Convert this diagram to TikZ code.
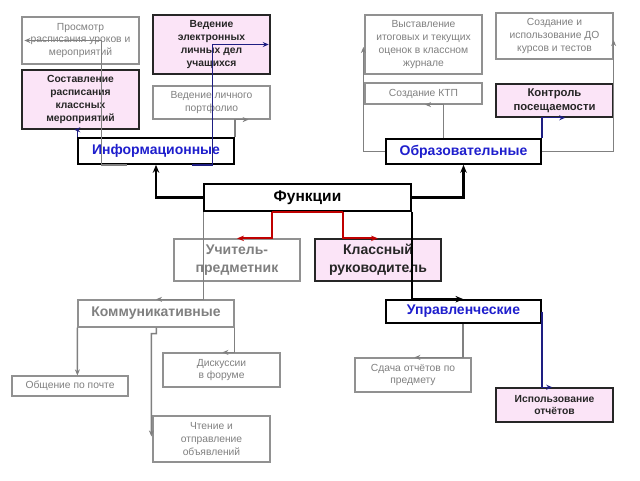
\documentclass[tikz,border=0pt]{standalone}
\usepackage{fontspec}
\setmainfont{Liberation Sans}
\usetikzlibrary{arrows.meta,calc}
\definecolor{gtext}{RGB}{128,128,128}
\definecolor{gline}{RGB}{128,128,128}
\definecolor{gborder}{RGB}{145,145,145}
\definecolor{pinkfill}{RGB}{251,228,247}
\definecolor{navyline}{RGB}{30,30,130}
\definecolor{bluetext}{RGB}{30,30,205}
\definecolor{redline}{RGB}{192,0,0}
\begin{document}
\begin{tikzpicture}[x=1pt,y=-1pt,
  sz/.style 2 args={minimum width=#1pt, minimum height=#2pt},
  gbox/.style={draw=gborder, fill=white, line width=1.2pt, inner sep=0pt, align=center, text=gtext,
    font=\fontsize{10.3}{12.7}\selectfont},
  pbox/.style={draw=black!85, fill=pinkfill, line width=1.5pt, inner sep=0pt, align=center, text=black!85,
    font=\bfseries\fontsize{10.3}{12.7}\selectfont},
  cat/.style={draw=black, fill=white, line width=1.6pt, inner sep=0pt, align=center, text=bluetext,
    font=\bfseries\fontsize{14}{16}\selectfont},
  gcat/.style={draw=gborder, fill=white, line width=1.3pt, inner sep=0pt, align=center, text=gtext,
    font=\bfseries\fontsize{14}{18}\selectfont},
  tip/.style={-{Stealth[length=6pt,width=5pt]}},
  gconn/.style={draw=gline, line width=1.4pt, tip},
  nconn/.style={draw=navyline, line width=1.4pt, tip},
  bconn/.style={draw=black, line width=2.2pt, -{Stealth[length=8pt,width=6.5pt]}},
  rconn/.style={draw=redline, line width=1.8pt, -{Stealth[length=7pt,width=5.5pt]}},
]
\fill[white] (0,0) rectangle (640,480);
\useasboundingbox (0,0) rectangle (640,480);

% top-left group
\node[gbox, sz={117}{47}] (prosm) at (80.5,40.5) {Просмотр\\расписания уроков и\\мероприятий};
\node[pbox, sz={117}{59}] (vedel) at (211.5,44.5) {Ведение\\электронных\\личных дел\\учащихся};
\node[pbox, sz={117}{59}] (sost) at (80.5,99.5) {Составление\\расписания\\классных\\мероприятий};
\node[gbox, sz={117}{33}] (portf) at (211.5,102.5) {Ведение личного\\портфолио};
\node[cat, sz={156}{26}] (info) at (156,151) {Информационные};

% top-right group
\node[gbox, sz={117}{59}] (vyst) at (423.5,44.5) {Выставление\\итоговых и текущих\\оценок в классном\\журнале};
\node[gbox, sz={117}{46}] (sozd) at (554.5,36) {Создание и\\использование ДО\\курсов и тестов};
\node[gbox, sz={117}{21}] (ktp) at (423.5,93.5) {\raisebox{1.5pt}{Создание КТП}};
\node[pbox, sz={117}{33}, font=\bfseries\fontsize{11.3}{13.5}\selectfont] (kontr) at (554.5,100.5) {Контроль\\посещаемости};
\node[cat, sz={155}{25}] (obr) at (463.5,151.5) {Образовательные};

% centre
\node[draw=black, fill=white, line width=1.6pt, inner sep=0pt, sz={207}{27},
  font=\bfseries\fontsize{15.5}{17}\selectfont] (func) at (307.5,197.5) {Функции};
\node[gcat, sz={126}{42}] (uchit) at (237,260) {Учитель-\\предметник};
\node[gcat, sz={126}{42}, draw=black!85, fill=pinkfill, text=black!85] (klass) at (378,260) {Классный\\руководитель};

% bottom groups
\node[gcat, sz={156}{27}] (komm) at (156,313.5) {Коммуникативные};
\node[cat, sz={155}{23}] (upr) at (463.5,311.5) {Управленческие};
\node[gbox, sz={116}{20}] (obsch) at (70,386) {Общение по почте};
\node[gbox, sz={117}{34}] (disk) at (221.5,370) {Дискуссии\\в форуме};
\node[gbox, sz={117}{46}] (chten) at (211.5,439) {Чтение и\\отправление\\объявлений};
\node[gbox, sz={116}{34}] (sdacha) at (413,375) {Сдача отчётов по\\предмету};
\node[pbox, sz={117}{34}] (ispolz) at (554.5,405) {Использование\\отчётов};

% connectors from Функции
\draw[bconn] (func.west) -| (info.south);
\draw[bconn] (func.east) -| (obr.south);
\draw[redline, line width=1.8pt] ([xshift=-35.5pt]func.south) -- ([xshift=35.5pt]func.south);
\draw[rconn] ([xshift=-35.5pt]func.south) |- (uchit.north);
\draw[rconn] ([xshift=35.5pt]func.south) |- (klass.north);
\draw[gconn] (func.south west) |- (komm.north);
\draw[bconn, line width=1.8pt] (func.south east) |- (upr.north);

% Информационные
\draw[gconn] ([xshift=50pt]info.south west) -- ([xshift=24pt]info.south west) |- ([xshift=3pt]prosm.west);
\draw[nconn] ([xshift=115pt]info.south west) -- ([xshift=135pt]info.south west) |- ([xshift=-2pt]vedel.east);
\draw[nconn] (info.north west) |- ([xshift=53pt]sost.south west);
\draw[gconn] (info.north east) |- ([xshift=-22pt]portf.south east);

% Образовательные
\draw[gconn] (obr.west) -| ([xshift=-1pt,yshift=-2.5pt]vyst.west);
\draw[gconn] ([xshift=-20pt]obr.north) |- ([xshift=1.5pt]ktp.south);
\draw[nconn] (obr.north east) |- ([xshift=70pt]kontr.south west);
\draw[gconn] (obr.east) -| ([yshift=-4pt]sozd.east);

% Коммуникативные
\draw[gconn] (komm.south west) -- ([xshift=66pt]obsch.north west);
\draw[gconn] ([xshift=79pt]komm.south west) -- ([xshift=79pt,yshift=-6pt]komm.south west)
  -- ([xshift=74pt,yshift=-6pt]komm.south west) -- ([xshift=-1pt,yshift=-21pt]chten.north west);
\draw[gconn] (komm.south east) |- ([xshift=60pt]disk.north west);

% Управленческие
\draw[gconn] ([xshift=-0.5pt]upr.south) |- ([xshift=60pt]sdacha.north west);
\draw[nconn] (upr.east) |- ([xshift=57pt]ispolz.north west);
\end{tikzpicture}
\end{document}
